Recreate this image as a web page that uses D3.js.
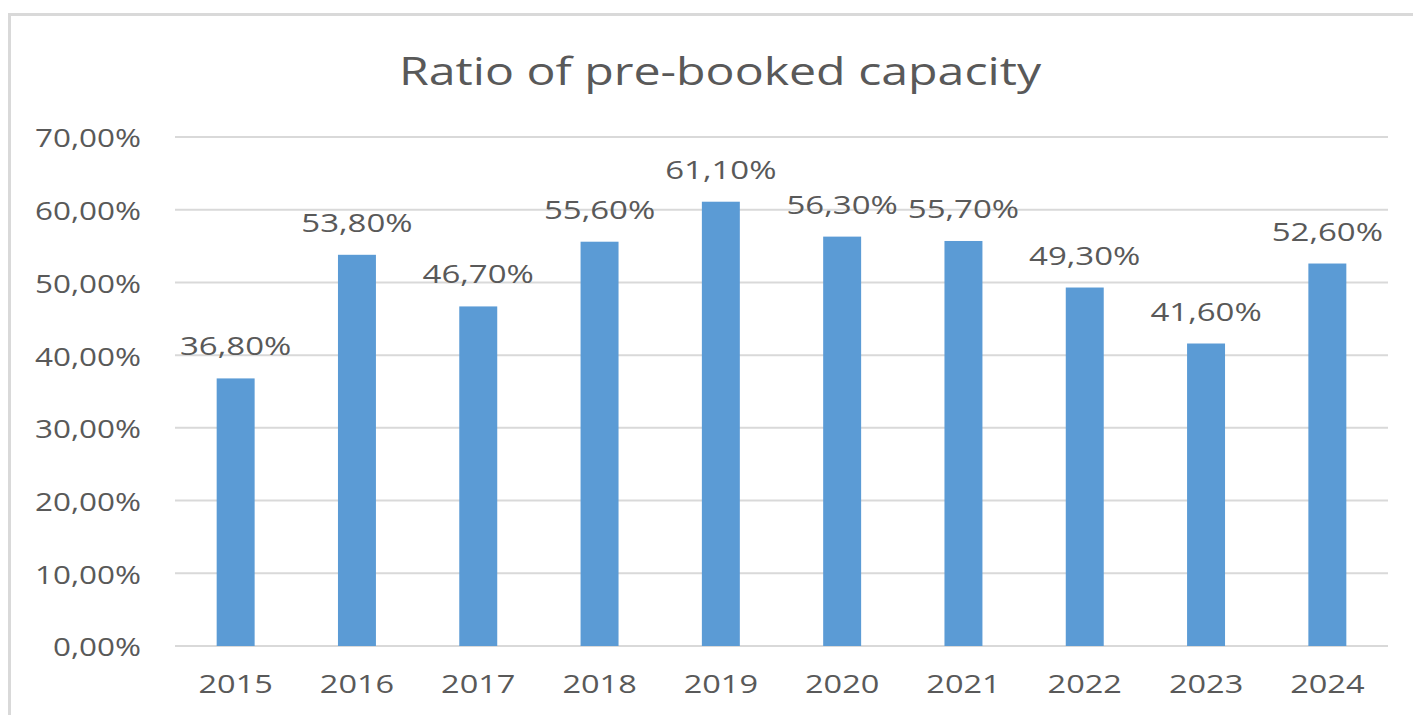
<!DOCTYPE html>
<html>
<head>
<meta charset="utf-8">
<script src="https://cdn.jsdelivr.net/npm/d3@7"></script>
<style>
  body { margin: 0; background: #fff; }
  svg { display: block; }
  text { font-family: "Open Sans", sans-serif; fill: #595959; }
</style>
</head>
<body>
<svg id="chart" width="1413" height="715"></svg>
<script>
const years = ['2015', '2016', '2017', '2018', '2019', '2020', '2021', '2022', '2023', '2024'];
const ratios = [36.8, 53.8, 46.7, 55.6, 61.1, 56.3, 55.7, 49.3, 41.6, 52.6];
const yTicks = [0, 10, 20, 30, 40, 50, 60, 70];
const title = 'Ratio of pre-booked capacity';

const width = 1413;
const height = 715;
const plot = { left: 175, right: 1388, top: 137, bottom: 646 };

const fmt = v => v.toFixed(2).replace('.', ',') + '%';

const svg = d3.select('#chart');

// chart area frame (runs off the right / bottom edges)
svg.append('rect')
  .attr('x', 9.5).attr('y', 14.5)
  .attr('width', width + 20).attr('height', height + 20)
  .attr('fill', 'none')
  .attr('stroke', '#d9d9d9')
  .attr('stroke-width', 3);

const x = d3.scaleBand()
  .domain(years)
  .range([plot.left, plot.right])
  .padding(0);

const y = d3.scaleLinear()
  .domain([0, 70])
  .range([plot.bottom, plot.top]);

const barWidth = x.bandwidth() * 0.313;

// helper for horizontally stretched text (the source text is drawn wide)
const stretched = (sel, fx, fy, sx) => sel
  .attr('transform', (d, i) => `translate(${fx(d, i)},${fy(d, i)}) scale(${sx},1)`);

// gridlines
svg.append('g')
  .selectAll('line')
  .data(yTicks)
  .join('line')
  .attr('x1', plot.left).attr('x2', plot.right)
  .attr('y1', d => y(d)).attr('y2', d => y(d))
  .attr('stroke', '#d9d9d9')
  .attr('stroke-width', 2);

// y axis labels
svg.append('g')
  .selectAll('text')
  .data(yTicks)
  .join('text')
  .attr('text-anchor', 'end')
  .attr('dominant-baseline', 'central')
  .attr('font-size', 26)
  .text(d => fmt(d))
  .call(stretched, () => 141, d => y(d), 1.21);

// bars
svg.append('g')
  .selectAll('rect')
  .data(ratios)
  .join('rect')
  .attr('x', (d, i) => x(years[i]) + (x.bandwidth() - barWidth) / 2)
  .attr('y', d => y(d))
  .attr('width', barWidth)
  .attr('height', d => y(0) - y(d))
  .attr('fill', '#5b9bd5');

// data labels
svg.append('g')
  .selectAll('text')
  .data(ratios)
  .join('text')
  .attr('text-anchor', 'middle')
  .attr('font-size', 26)
  .text(d => fmt(d))
  .call(stretched, (d, i) => x(years[i]) + x.bandwidth() / 2, d => y(d) - 23, 1.27);

// x axis labels
svg.append('g')
  .selectAll('text')
  .data(years)
  .join('text')
  .attr('text-anchor', 'middle')
  .attr('font-size', 26)
  .text(d => d)
  .call(stretched, d => x(d) + x.bandwidth() / 2, () => 693, 1.25);

// title
svg.append('text')
  .attr('text-anchor', 'middle')
  .attr('font-size', 38)
  .text(title)
  .attr('transform', 'translate(720,85) scale(1.27,1)');
</script>
</body>
</html>
